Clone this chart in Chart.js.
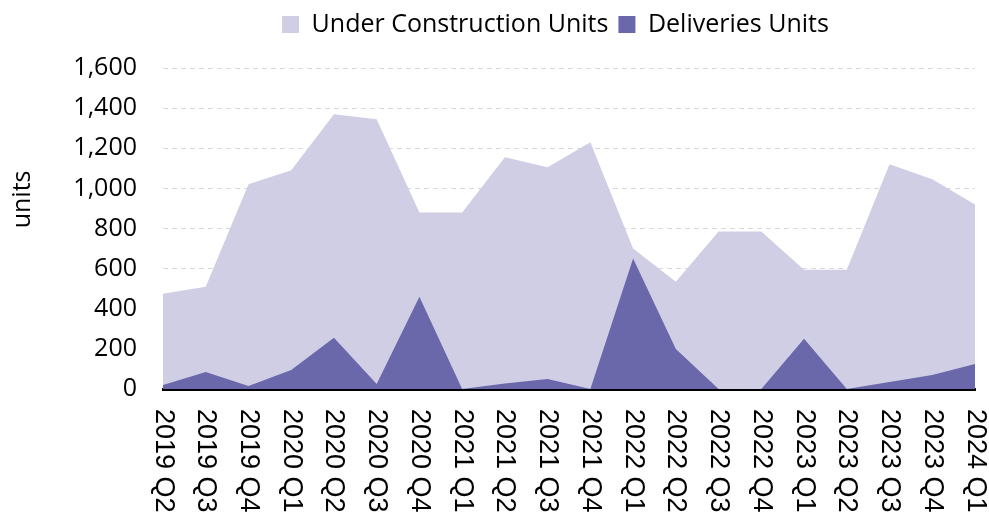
<!DOCTYPE html>
<html>
<head>
<meta charset="utf-8">
<script src="https://cdn.jsdelivr.net/npm/chart.js@4.4.1/dist/chart.umd.min.js"></script>
<style>
html,body{margin:0;padding:0;background:#fff;}
#wrap{width:989px;height:518px;position:relative;}
</style>
</head>
<body>
<div id="wrap"><canvas id="c" width="989" height="518"></canvas></div>
<script>
const categories = ["2019 Q2","2019 Q3","2019 Q4","2020 Q1","2020 Q2","2020 Q3","2020 Q4","2021 Q1","2021 Q2","2021 Q3","2021 Q4","2022 Q1","2022 Q2","2022 Q3","2022 Q4","2023 Q1","2023 Q2","2023 Q3","2023 Q4","2024 Q1"];
const underConstruction = [475,510,1020,1090,1370,1345,880,880,1155,1105,1230,700,535,785,785,595,595,1120,1045,920];
const deliveries = [20,85,15,95,255,25,460,0,28,50,0,650,200,0,0,250,0,35,70,125];
const yMin = 0, yMax = 1600, yStep = 200;
const yTitle = "units";

const labelPlugin = {
  id: 'customText',
  afterLayout(chart) {
    const lg = chart.legend;
    if (lg) { lg.left += 38; lg.right += 38; lg.top -= 21; lg.bottom -= 21; }
  },
  afterDraw(chart) {
    const ctx = chart.ctx;
    const xs = chart.scales.x;
    const ys = chart.scales.y;
    ctx.save();
    ctx.fillStyle = '#000';
    ctx.font = '27px "Liberation Sans", Arial, sans-serif';
    ctx.textAlign = 'left';
    ctx.textBaseline = 'middle';
    categories.forEach((lab, i) => {
      const x = xs.getPixelForValue(i);
      ctx.save();
      ctx.translate(x, xs.top + 20);
      ctx.rotate(Math.PI / 2);
      ctx.fillText(lab, 0, 0);
      ctx.restore();
    });
    ctx.font = '25px "Open Sans", sans-serif';
    ctx.textAlign = 'center';
    ctx.save();
    ctx.translate(23, ys.getPixelForValue(945));
    ctx.rotate(-Math.PI / 2);
    ctx.fillText(yTitle, 0, 0);
    ctx.restore();
    ctx.restore();
  }
};

new Chart(document.getElementById('c'), {
  type: 'line',
  data: {
    labels: categories,
    datasets: [
      {
        label: 'Under Construction Units',
        data: underConstruction,
        backgroundColor: '#D0CEE5',
        borderColor: '#D0CEE5',
        borderWidth: 0,
        pointRadius: 0,
        fill: 'origin',
        tension: 0,
        order: 2
      },
      {
        label: 'Deliveries Units',
        data: deliveries,
        backgroundColor: '#6A67AB',
        borderColor: '#6A67AB',
        borderWidth: 0,
        pointRadius: 0,
        fill: 'origin',
        tension: 0,
        order: 1
      }
    ]
  },
  options: {
    responsive: false,
    animation: false,
    devicePixelRatio: 1,
    layout: { padding: { left: 60, right: 14, top: 23, bottom: 0 } },
    plugins: {
      legend: {
        position: 'top',
        align: 'center',
        labels: {
          boxWidth: 17,
          boxHeight: 17,
          padding: 10,
          color: '#000',
          font: { family: '"Open Sans", sans-serif', size: 25 },
          sort: (a, b) => a.datasetIndex - b.datasetIndex
        }
      },
      tooltip: { enabled: false }
    },
    scales: {
      x: {
        type: 'category',
        offset: false,
        grid: { display: false, drawTicks: false },
        border: { display: true, color: '#000', width: 3 },
        ticks: { display: false },
        afterFit(scale) { scale.height = 129; }
      },
      y: {
        min: yMin,
        max: yMax,
        grid: {
          color: (c) => c.tick && c.tick.value === 0 ? 'rgba(0,0,0,0)' : '#D9D9D9',
          lineWidth: 1,
          drawTicks: false
        },
        border: { display: false, dash: [5, 4] },
        ticks: {
          stepSize: yStep,
          padding: 26,
          color: '#000',
          font: { family: '"Open Sans", sans-serif', size: 25 }
        },
        afterFit(scale) { scale.width = 103; }
      }
    }
  },
  plugins: [labelPlugin]
});
</script>
</body>
</html>
